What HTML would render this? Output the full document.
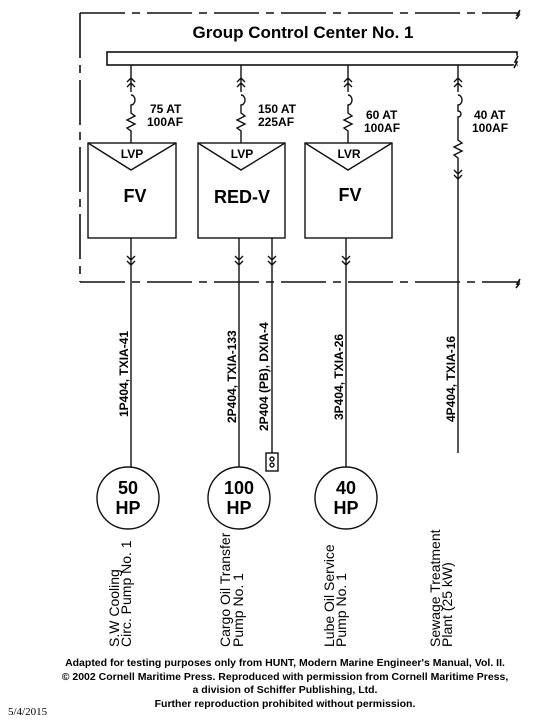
<!DOCTYPE html>
<html><head><meta charset="utf-8"><style>body{margin:0;background:#fff}svg{display:block}</style></head><body>
<svg width="552" height="723" viewBox="0 0 552 723" xmlns="http://www.w3.org/2000/svg" font-family="Liberation Sans, Arial, sans-serif">
<g stroke="#111" stroke-width="1.6" fill="none">
<path d="M80 13 H520" stroke-dasharray="45 7 8 7"/>
<path d="M80 13 V282" stroke-dasharray="45 7 8 7"/>
<path d="M80 282 H520" stroke-dasharray="45 7 8 7"/>
<path d="M516 19 l3 -4 l-2 0 l3 -5"/>
<path d="M516 288 l3 -4 l-2 0 l3 -5"/>
<rect x="107" y="52" width="410" height="13"/>
<path d="M514 68 l3 -6 l-2 0 l3 -6" stroke="#fff" stroke-width="3"/>
<path d="M514 68 l3 -6 l-2 0 l3 -6"/>
</g>
<text x="303" y="38" font-size="17" font-weight="bold" text-anchor="middle">Group Control Center No. 1</text>
<g stroke="#111" stroke-width="1.4" fill="none">
<g id="b1">
<path d="M131 65 V80 M127 82 l4 -4 l4 4 M127 87 l4 -4 l4 4 M131 80 V92"/>
<path d="M131 95 a4 5 0 0 1 0 10 V113 l4 3 l-8 4 l8 4 l-8 4 l4 3 V143"/>
</g>
<use href="#b1" x="110"/>
<use href="#b1" x="217"/>
<path d="M458 65 V80 M454 82 l4 -4 l4 4 M454 87 l4 -4 l4 4 M458 80 V92 M458 95 a4 5 0 0 1 0 10 V111 a3 3 0 1 1 0 6 V140 l4 3 l-8 4 l8 4 l-8 4 l4 3 V172 M454 170 l4 4 l4 -4 M454 175 l4 4 l4 -4 M458 172 V453"/>
<rect x="88" y="143" width="88" height="95"/>
<path d="M88 143 L131 170 L176 143"/>
<rect x="198" y="143" width="87" height="95"/>
<path d="M198 143 L241 170 L285 143"/>
<rect x="305" y="143" width="87" height="95"/>
<path d="M305 143 L348 170 L392 143"/>
<path d="M131 238 V467 M127 256 l4 4 l4 -4 M127 261 l4 4 l4 -4"/>
<path d="M239 238 V467 M235 256 l4 4 l4 -4 M235 261 l4 4 l4 -4"/>
<path d="M272 238 V453 M268 256 l4 4 l4 -4 M268 261 l4 4 l4 -4"/>
<path d="M346 238 V467 M342 256 l4 4 l4 -4 M342 261 l4 4 l4 -4"/>
<rect x="266" y="453" width="12" height="18"/>
<circle cx="272" cy="459" r="2"/><circle cx="272" cy="465" r="2"/>
<circle cx="128" cy="498" r="31"/>
<circle cx="239" cy="498" r="31"/>
<circle cx="346" cy="498" r="31"/>
</g>
<g font-size="12" font-weight="bold">
<text x="150" y="113">75 AT</text><text x="147" y="126">100AF</text>
<text x="258" y="113">150 AT</text><text x="258" y="126">225AF</text>
<text x="366" y="119">60 AT</text><text x="364" y="132">100AF</text>
<text x="474" y="119">40 AT</text><text x="472" y="132">100AF</text>
<text x="132" y="158" text-anchor="middle">LVP</text>
<text x="242" y="158" text-anchor="middle">LVP</text>
<text x="349" y="158" text-anchor="middle">LVR</text>
</g>
<g font-size="18" font-weight="bold" text-anchor="middle">
<text x="135" y="202">FV</text><text x="242" y="203">RED-V</text><text x="350" y="201">FV</text>
<text x="128" y="494">50</text><text x="128" y="514">HP</text>
<text x="239" y="494">100</text><text x="239" y="514">HP</text>
<text x="346" y="494">40</text><text x="346" y="514">HP</text>
</g>
<g font-size="12" font-weight="bold">
<text transform="translate(128 417) rotate(-90)">1P404, TXIA-41</text>
<text transform="translate(236 423) rotate(-90)">2P404, TXIA-133</text>
<text transform="translate(268 431) rotate(-90)">2P404 (PB), DXIA-4</text>
<text transform="translate(343 420) rotate(-90)">3P404, TXIA-26</text>
<text transform="translate(455 422) rotate(-90)">4P404, TXIA-16</text>
</g>
<g font-size="14">
<text transform="translate(119 647) rotate(-90)">S.W Cooling</text>
<text transform="translate(131 647) rotate(-90)">Circ. Pump No. 1</text>
<text transform="translate(230 647) rotate(-90)">Cargo Oil Transfer</text>
<text transform="translate(243 647) rotate(-90)">Pump No. 1</text>
<text transform="translate(334 647) rotate(-90)">Lube Oil Service</text>
<text transform="translate(346 647) rotate(-90)">Pump No. 1</text>
<text transform="translate(440 647) rotate(-90)">Sewage Treatment</text>
<text transform="translate(452 647) rotate(-90)">Plant (25 kW)</text>
</g>
<g font-size="10.5" font-weight="bold" text-anchor="middle">
<text x="285" y="666">Adapted for testing purposes only from HUNT, Modern Marine Engineer's Manual, Vol. II.</text>
<text x="285" y="680">© 2002 Cornell Maritime Press. Reproduced with permission from Cornell Maritime Press,</text>
<text x="285" y="693">a division of Schiffer Publishing, Ltd.</text>
<text x="285" y="707">Further reproduction prohibited without permission.</text>
</g>
<text x="8" y="715" font-size="11" font-family="Liberation Serif, serif">5/4/2015</text>
</svg>
</body></html>
